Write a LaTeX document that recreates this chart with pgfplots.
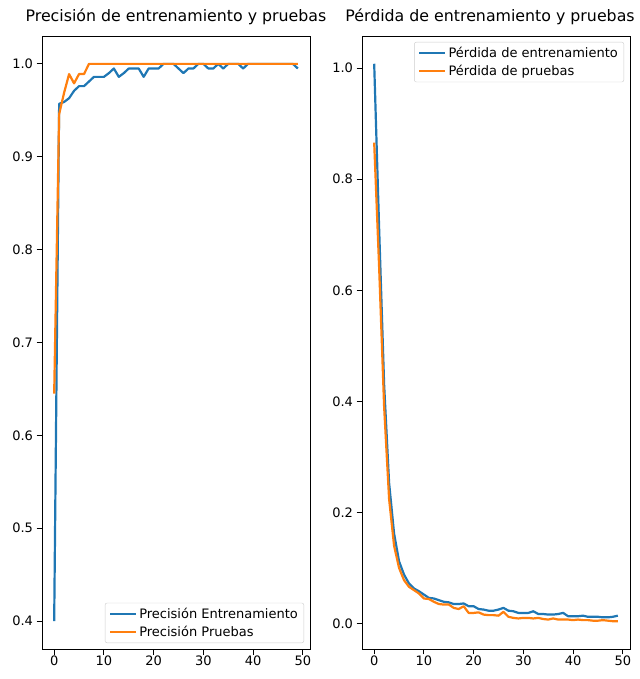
\documentclass[border=0pt]{standalone}
\usepackage{pgfplots}
\pgfplotsset{compat=1.18}
\usepackage{fontspec}
\setmainfont{DejaVu Sans}
\definecolor{tabblue}{HTML}{1F77B4}
\definecolor{taborange}{HTML}{FF7F0E}

\pgfplotsset{
  mpl/.style={
    scale only axis, width=268pt, height=613pt,
    xmin=-2.45, xmax=51.45,
    xtick={0,10,...,50},
    xtick pos=bottom, ytick pos=left,
    tick align=outside, major tick length=5.5pt,
    tick style={black, line width=0.9pt},
    axis line style={line width=0.9pt},
    every tick label/.append style={font=\fontsize{13}{15}\selectfont},
    xticklabel style={inner ysep=1pt},
    /pgf/number format/assume math mode=true,
    yticklabel style={/pgf/number format/.cd, fixed, fixed zerofill, precision=1},
    title style={font=\fontsize{15.8}{18}\selectfont, at={(0.5,1)}, anchor=base, yshift=8.7pt, inner sep=1pt},
    legend style={draw=black!20, rounded corners=2pt, fill=white,
      font=\fontsize{13}{15}\selectfont, cells={anchor=west}, row sep=2pt,
      inner xsep=4pt, inner ysep=3pt},
    legend image code/.code={\draw[#1] (0pt,0pt) -- (26pt,0pt);},
    every axis plot/.append style={line width=2.2pt, line join=round},
  }
}

\begin{document}
\begin{tikzpicture}
\begin{axis}[mpl, at={(42pt,30pt)},
    ymin=0.37, ymax=1.03, ytick={0.4,0.5,...,1.0},
    title={Precisión de entrenamiento y pruebas},
    legend style={at={(1,0)}, anchor=south east, xshift=-6pt, yshift=6pt}]
\addplot[tabblue] coordinates {
(0,0.400) (1,0.957) (2,0.959) (3,0.963) (4,0.971) (5,0.976) (6,0.976) (7,0.981) (8,0.986) (9,0.986)
(10,0.986) (11,0.990) (12,0.995) (13,0.986) (14,0.990) (15,0.995) (16,0.995) (17,0.995) (18,0.986) (19,0.995)
(20,0.995) (21,0.995) (22,1.000) (23,1.000) (24,1.000) (25,0.995) (26,0.990) (27,0.995) (28,0.995) (29,1.000)
(30,1.000) (31,0.995) (32,0.995) (33,1.000) (34,0.995) (35,1.000) (36,1.000) (37,1.000) (38,0.995) (39,1.000)
(40,1.000) (41,1.000) (42,1.000) (43,1.000) (44,1.000) (45,1.000) (46,1.000) (47,1.000) (48,1.000) (49,0.995)
};
\addlegendentry{Precisión Entrenamiento}
\addplot[taborange] coordinates {
(0,0.645) (1,0.946) (2,0.969) (3,0.989) (4,0.979) (5,0.989) (6,0.989) (7,1.000) (8,1.000) (9,1.000)
(10,1.000) (11,1.000) (12,1.000) (13,1.000) (14,1.000) (15,1.000) (16,1.000) (17,1.000) (18,1.000) (19,1.000)
(20,1.000) (21,1.000) (22,1.000) (23,1.000) (24,1.000) (25,1.000) (26,1.000) (27,1.000) (28,1.000) (29,1.000)
(30,1.000) (31,1.000) (32,1.000) (33,1.000) (34,1.000) (35,1.000) (36,1.000) (37,1.000) (38,1.000) (39,1.000)
(40,1.000) (41,1.000) (42,1.000) (43,1.000) (44,1.000) (45,1.000) (46,1.000) (47,1.000) (48,1.000) (49,1.000)
};
\addlegendentry{Precisión Pruebas}
\end{axis}

\begin{axis}[mpl, at={(362pt,30pt)},
    ymin=-0.046, ymax=1.058, ytick={0,0.2,...,1.0},
    title={Pérdida de entrenamiento y pruebas},
    title style={xshift=-6pt},
    legend style={at={(1,1)}, anchor=north east, xshift=-6pt, yshift=-6pt}]
\addplot[tabblue] coordinates {
(0,1.008) (1,0.710) (2,0.430) (3,0.253) (4,0.162) (5,0.112) (6,0.088) (7,0.072) (8,0.063) (9,0.058)
(10,0.052) (11,0.046) (12,0.045) (13,0.042) (14,0.039) (15,0.038) (16,0.035) (17,0.035) (18,0.036) (19,0.031)
(20,0.031) (21,0.026) (22,0.025) (23,0.023) (24,0.023) (25,0.025) (26,0.028) (27,0.023) (28,0.022) (29,0.019)
(30,0.019) (31,0.019) (32,0.022) (33,0.017) (34,0.017) (35,0.016) (36,0.016) (37,0.017) (38,0.019) (39,0.013)
(40,0.013) (41,0.013) (42,0.014) (43,0.012) (44,0.012) (45,0.012) (46,0.011) (47,0.011) (48,0.012) (49,0.014)
};
\addlegendentry{Pérdida de entrenamiento}
\addplot[taborange] coordinates {
(0,0.866) (1,0.640) (2,0.390) (3,0.224) (4,0.140) (5,0.100) (6,0.078) (7,0.066) (8,0.060) (9,0.054)
(10,0.045) (11,0.044) (12,0.039) (13,0.035) (14,0.034) (15,0.034) (16,0.028) (17,0.026) (18,0.031) (19,0.019)
(20,0.019) (21,0.020) (22,0.016) (23,0.015) (24,0.015) (25,0.014) (26,0.021) (27,0.012) (28,0.010) (29,0.009)
(30,0.010) (31,0.010) (32,0.009) (33,0.010) (34,0.008) (35,0.007) (36,0.009) (37,0.007) (38,0.007) (39,0.007)
(40,0.006) (41,0.007) (42,0.006) (43,0.006) (44,0.005) (45,0.005) (46,0.006) (47,0.005) (48,0.004) (49,0.004)
};
\addlegendentry{Pérdida de pruebas}
\end{axis}
\pgfresetboundingbox
\path[use as bounding box] (0pt,0pt) rectangle (639pt,679pt);
\end{tikzpicture}
\end{document}
